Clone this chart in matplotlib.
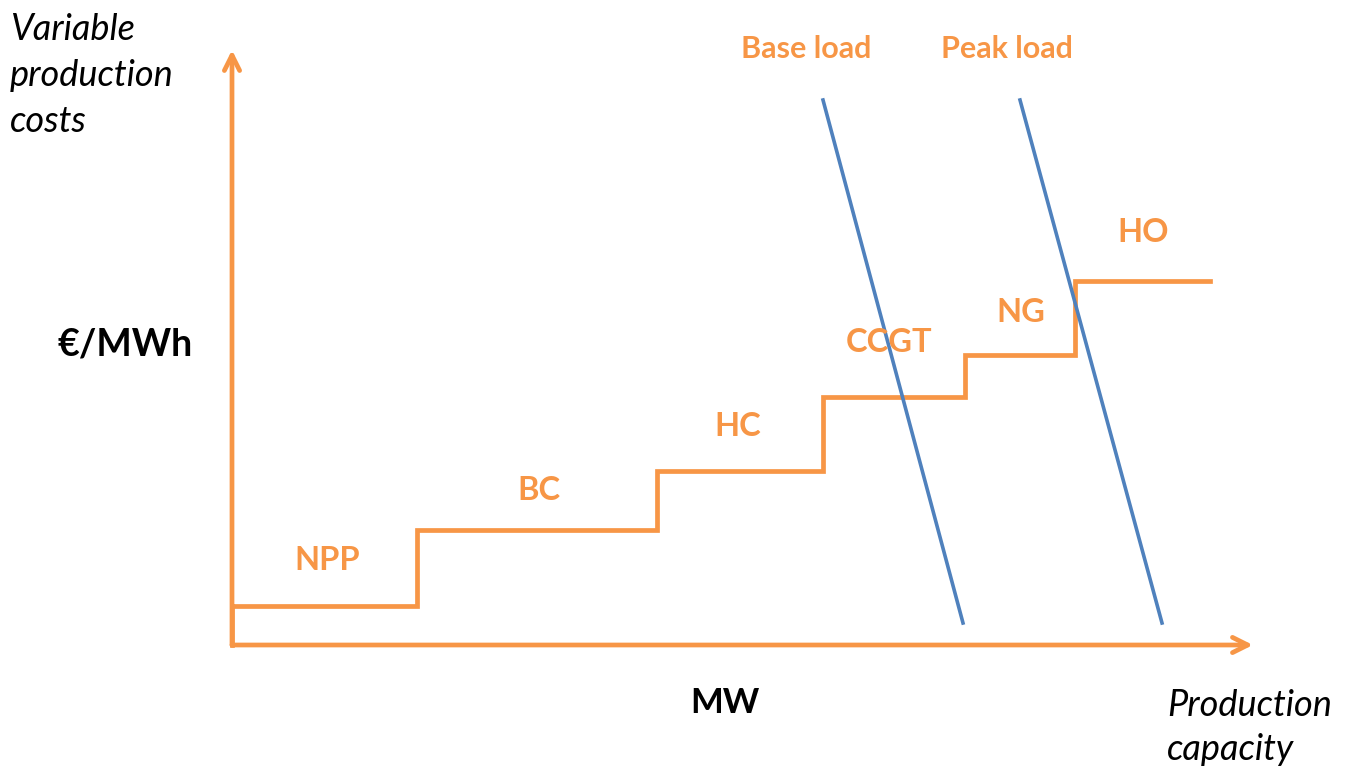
import matplotlib
matplotlib.use("Agg")
import matplotlib.pyplot as plt

plt.rcParams['font.family'] = ['Lato', 'DejaVu Sans']

ORANGE = '#F79646'
BLUE = '#4F81BD'

# merit order steps: capacity edges and variable cost of each technology
techs = ['NPP', 'BC', 'HC', 'CCGT', 'NG', 'HO']
cap_edges = [0, 185, 425, 591, 733, 843, 978]
costs = [39, 115, 174, 248, 290, 364]
label_xy = [(95, 85), (307, 155), (506, 218), (657, 303), (789, 332), (911, 413)]

# demand curves (capacity at top, capacity at bottom, cost top, cost bottom)
demand_names = ['Base load', 'Peak load']
demand_x = [(591, 731), (788, 930)]
demand_y = [545, 22]
demand_label_xy = [(574, 596), (775, 596)]

y_title = ['Variable', 'production', 'costs']
x_title = ['Production', 'capacity']

fig = plt.figure(figsize=(13.54, 7.72), dpi=100)
ax = fig.add_axes([0, 0, 1, 1])
ax.set_xlim(-232, 1122)
ax.set_ylim(-127, 645)
ax.axis('off')

# axes arrows
arrow = dict(arrowstyle='->,head_length=1.1,head_width=0.55',
             color=ORANGE, lw=3.4, shrinkA=0, shrinkB=0)
ax.annotate('', xy=(1021, 0), xytext=(0, 0), arrowprops=arrow)
ax.annotate('', xy=(0, 595), xytext=(0, 0), arrowprops=arrow)

# step supply curve
xs, ys = [], []
for i, c in enumerate(costs):
    xs += [cap_edges[i], cap_edges[i + 1]]
    ys += [c, c]
ax.plot(xs, ys, color=ORANGE, lw=3.4, solid_joinstyle='miter')
ax.plot([0, 0], [0, costs[0]], color=ORANGE, lw=3.4)

for name, (lx, ly) in zip(techs, label_xy):
    ax.text(lx, ly, name, color=ORANGE, fontsize=23.5, fontweight='bold',
            ha='center', va='center')

for name, dx, (lx, ly) in zip(demand_names, demand_x, demand_label_xy):
    ax.plot(dx, demand_y, color=BLUE, lw=2.6)
    ax.text(lx, ly, name, color=ORANGE, fontsize=22, fontweight='bold',
            ha='center', va='center')

# axis titles
for i, line in enumerate(y_title):
    ax.text(-222, 615 - 46 * i, line, fontsize=26, style='italic',
            ha='left', va='center')
for i, line in enumerate(x_title):
    ax.text(935, -60 - 45 * i, line, fontsize=26, style='italic',
            ha='left', va='center')
ax.text(-107, 300, '€/MWh', fontsize=27, fontweight='bold', ha='center', va='center')
ax.text(493, -58, 'MW', fontsize=25, fontweight='bold', ha='center', va='center')

fig.savefig('out.png', dpi=100)
